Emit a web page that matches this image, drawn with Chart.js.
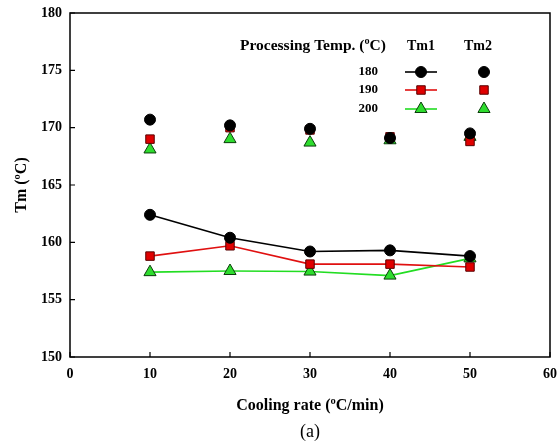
<!DOCTYPE html>
<html><head><meta charset="utf-8">
<script src="https://cdn.jsdelivr.net/npm/chart.js@4"></script>
<style>html,body{margin:0;padding:0;background:#fff}#wrap{width:560px;height:445px}</style>
</head><body><div id="wrap"><canvas id="c" width="560" height="445"></canvas></div>
<script>
const coolingRates = [10, 20, 30, 40, 50];
const tm1_180 = [162.4, 160.4, 159.2, 159.3, 158.8];
const tm1_190 = [158.8, 159.7, 158.1, 158.1, 157.85];
const tm1_200 = [157.4, 157.5, 157.45, 157.1, 158.6];
const tm2_180 = [170.7, 170.2, 169.9, 169.1, 169.5];
const tm2_190 = [169.0, 170.0, 169.8, 169.2, 168.8];
const tm2_200 = [168.1, 169.0, 168.7, 168.9, 169.2];
const yTicks = [150, 155, 160, 165, 170, 175, 180];
const xTicks = [0, 10, 20, 30, 40, 50, 60];
const temps = ['180', '190', '200'];

const FONT = "'Liberation Serif', 'DejaVu Serif', serif";
const styles = [
  {color:'#000000', fill:'#000000', border:'#000000', shape:'circle', r:5.5},
  {color:'#e01010', fill:'#e00000', border:'#5a0000', shape:'rect', r:6},
  {color:'#22dd22', fill:'#2edc2e', border:'#0b3d0b', shape:'triangle', r:7}
];
const pts = arr => arr.map((v,i)=>({x:coolingRates[i], y:v}));
const tm1 = [tm1_180, tm1_190, tm1_200];
const tm2 = [tm2_180, tm2_190, tm2_200];
const datasets = [];
tm2.forEach((d,i)=>datasets.push({label:'Tm2 '+temps[i], data:pts(d), showLine:false,
  pointStyle:styles[i].shape, pointRadius:styles[i].r, pointBackgroundColor:styles[i].fill,
  pointBorderColor:styles[i].border, pointBorderWidth:1, borderColor:styles[i].color}));
tm1.forEach((d,i)=>datasets.push({label:'Tm1 '+temps[i], data:pts(d), showLine:true,
  borderColor:styles[i].color, borderWidth:1.6, tension:0,
  pointStyle:styles[i].shape, pointRadius:styles[i].r, pointBackgroundColor:styles[i].fill,
  pointBorderColor:styles[i].border, pointBorderWidth:1}));

function drawMarker(ctx, st, x, y){
  ctx.save();
  ctx.fillStyle = st.fill; ctx.strokeStyle = st.border; ctx.lineWidth = 1;
  ctx.beginPath();
  const r = st.r;
  if(st.shape==='circle'){ ctx.arc(x,y,r,0,Math.PI*2); }
  else if(st.shape==='rect'){ const s=r*Math.SQRT1_2; ctx.rect(x-s,y-s,2*s,2*s); }
  else { const h=r; ctx.moveTo(x, y - h); ctx.lineTo(x + h*0.866, y + h*0.5); ctx.lineTo(x - h*0.866, y + h*0.5); ctx.closePath(); }
  ctx.fill(); ctx.stroke();
  ctx.restore();
}

const framePlugin = {
  id:'frame',
  afterDraw(chart){
    const ctx = chart.ctx, a = chart.chartArea;
    const xs = chart.scales.x, ys = chart.scales.y;
    ctx.save();
    ctx.strokeStyle = '#000'; ctx.lineWidth = 1.5;
    ctx.strokeRect(a.left, a.top, a.right - a.left, a.bottom - a.top);
    ctx.lineWidth = 1.2;
    ctx.beginPath();
    xTicks.forEach(v=>{ const px = xs.getPixelForValue(v); ctx.moveTo(px, a.bottom); ctx.lineTo(px, a.bottom - 5); });
    yTicks.forEach(v=>{ const py = ys.getPixelForValue(v); ctx.moveTo(a.left, py); ctx.lineTo(a.left + 5, py); });
    ctx.stroke();
    // legend
    ctx.fillStyle = '#000';
    ctx.textBaseline = 'middle';
    ctx.font = "bold 15.5px " + FONT;
    ctx.textAlign = 'left';
    ctx.fillText('Processing Temp. (ºC)', 240, 46);
    ctx.font = "bold 14px " + FONT;
    ctx.textAlign = 'center';
    ctx.fillText('Tm1', 421, 46);
    ctx.fillText('Tm2', 478, 46);
    ctx.font = "bold 13px " + FONT;
    const rowsY = [72, 90, 109];
    temps.forEach((t,i)=>{
      const y = rowsY[i];
      ctx.fillStyle = '#000'; ctx.textAlign = 'right';
      ctx.fillText(t, 378, y);
      ctx.strokeStyle = styles[i].color; ctx.lineWidth = 1.6;
      ctx.beginPath(); ctx.moveTo(405, y); ctx.lineTo(437, y); ctx.stroke();
      drawMarker(ctx, styles[i], 421, y);
      drawMarker(ctx, styles[i], 484, y);
    });
    // caption
    ctx.fillStyle = '#000'; ctx.textAlign = 'center';
    ctx.font = "18px " + FONT;
    ctx.fillText('(a)', 310, 432);
    ctx.restore();
  }
};

new Chart(document.getElementById('c'), {
  type:'scatter',
  data:{datasets},
  options:{
    responsive:false, animation:false, devicePixelRatio:1,
    layout:{padding:{top:13, right:10, left:12, bottom:30}},
    plugins:{legend:{display:false}, tooltip:{enabled:false}},
    scales:{
      x:{type:'linear', min:0, max:60,
        afterBuildTicks(s){ s.ticks = xTicks.map(v=>({value:v})); },
        afterFit(s){ s.height = 58; s.paddingLeft = 0; s.paddingRight = 0; },
        grid:{display:false, drawTicks:false}, border:{display:false},
        ticks:{color:'#000', padding:9, font:{family:FONT, weight:'bold', size:14}},
        title:{display:true, text:'Cooling rate (ºC/min)', color:'#000', padding:{top:4, bottom:0}, font:{family:FONT, weight:'bold', size:16}}
      },
      y:{type:'linear', min:150, max:180,
        afterBuildTicks(s){ s.ticks = yTicks.map(v=>({value:v})); },
        afterFit(s){ s.width = 58; s.paddingTop = 0; s.paddingBottom = 0; },
        grid:{display:false, drawTicks:false}, border:{display:false},
        ticks:{color:'#000', padding:8, font:{family:FONT, weight:'bold', size:14}},
        title:{display:true, text:'Tm (ºC)', color:'#000', padding:{bottom:0, top:0}, font:{family:FONT, weight:'bold', size:16}}
      }
    }
  },
  plugins:[framePlugin]
});
</script></body></html>
